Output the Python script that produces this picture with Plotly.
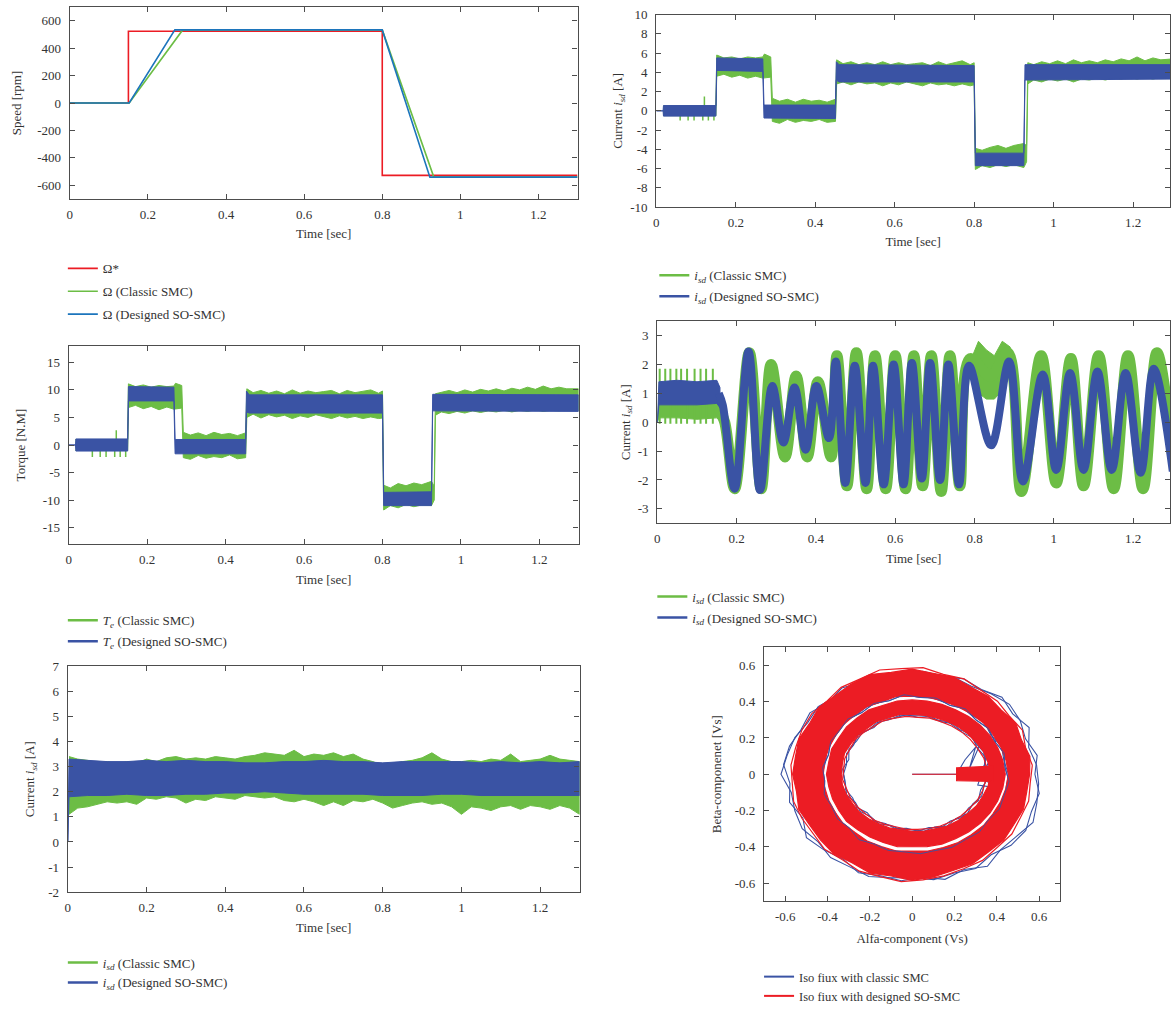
import math
import plotly.graph_objects as go

FONT = "Liberation Serif"
GREEN = "#6cbd45"
BLUE = "#3a53a4"
SBLUE = "#1c75bc"
RED = "#ec1c24"
AXC = "#4d4d4d"
TXT = "#333333"
W, H = 1171, 1011

# ---------------- Panel A : speed ----------------
speed_ref_t = [0, 0.15, 0.15, 0.8, 0.8, 1.3]
speed_ref_w = [0, 0, 523, 523, -527, -527]
speed_cls_t = [0, 0.152, 0.289, 0.8, 0.932, 1.3]
speed_cls_w = [0, 0, 533, 533, -540, -540]
speed_so_t = [0, 0.152, 0.269, 0.8, 0.922, 1.3]
speed_so_w = [0, 0, 533, 533, -540, -540]
speed_ticks = [-600, -400, -200, 0, 200, 400, 600]
speed_labels = ["-600", "-400", "-200", "0", "200", "400", "600"]

time_ticks = [0, 0.2, 0.4, 0.6, 0.8, 1.0, 1.2]
time_labels = ["0", "0.2", "0.4", "0.6", "0.8", "1", "1.2"]

# ---------------- Panel B : current (torque producing) ----------------
isB_so_t = [0.000, 0.017, 0.018, 0.150, 0.152, 0.268, 0.271, 0.451, 0.453, 0.460, 0.800, 0.803, 0.925, 0.928, 1.300]
isB_so_hi = [0.0, 0.0, 0.55, 0.55, 5.5, 5.4, 0.6, 0.6, 5.1, 4.8, 4.7, -4.4, -4.4, 4.8, 4.8]
isB_so_lo = [0.0, 0.0, -0.55, -0.55, 4.2, 4.1, -0.75, -0.8, 3.2, 3.0, 3.0, -5.7, -5.7, 3.2, 3.3]
cl_t = [0.017, 0.150,
        0.152, 0.17, 0.19, 0.21, 0.23, 0.25, 0.268,
        0.272, 0.288,
        0.292, 0.31, 0.33, 0.35, 0.37, 0.39, 0.41, 0.43, 0.451,
        0.454, 0.47, 0.49, 0.51, 0.53, 0.55, 0.57, 0.59, 0.61, 0.63, 0.65, 0.67, 0.69, 0.71, 0.73, 0.75, 0.77, 0.79, 0.800,
        0.803, 0.82, 0.84, 0.86, 0.88, 0.90, 0.925,
        0.932,
        0.935, 0.95, 0.97, 0.99, 1.01, 1.03, 1.05, 1.07, 1.09, 1.11, 1.13, 1.15, 1.17, 1.19, 1.21, 1.23, 1.25, 1.27, 1.3]
isB_cl_hi = [0.5, 0.5,
             5.8, 5.5, 5.6, 5.4, 5.6, 5.5, 5.6,
             5.9, 5.6,
             1.3, 1.0, 1.2, 0.9, 1.2, 1.0, 1.1, 0.9, 1.2,
             5.3, 4.9, 5.1, 4.8, 5.0, 4.8, 5.1, 4.8, 5.0, 4.8, 4.9, 5.0, 4.7, 5.1, 4.8, 5.0, 5.2, 4.8, 5.0,
             -3.9, -4.1, -3.8, -3.6, -3.9, -3.6, -3.4,
             -3.6,
             5.0, 4.8, 5.1, 4.9, 5.2, 4.9, 5.3, 5.0, 5.2, 5.0, 5.3, 5.1, 5.4, 5.2, 5.6, 5.2, 5.5, 5.3, 5.4]
isB_cl_lo = [-0.5, -0.5,
             3.6, 3.8, 3.5, 3.7, 3.4, 3.6, 3.4,
             3.4, 3.5,
             -1.1, -1.3, -0.9, -1.2, -1.0, -1.1, -0.9, -1.2, -1.1,
             2.8, 3.0, 2.7, 3.0, 2.8, 2.9, 2.6, 2.9, 2.7, 3.0, 2.8, 2.6, 2.9, 2.7, 2.8, 2.6, 2.8, 2.6, 2.7,
             -6.1, -5.7, -5.9, -5.6, -5.8, -5.6, -5.9,
             -5.3,
             2.8, 3.2, 3.0, 3.3, 3.1, 3.3, 3.0, 3.3, 3.2, 3.4, 3.2, 3.4, 3.3, 3.5, 3.3, 3.5, 3.3, 3.5, 3.4]
isB_spike_t = [0.060, 0.080, 0.095, 0.117, 0.131, 0.145]
isB_spike_lo = -1.0
isB_upspike_t = [0.121]
isB_upspike_hi = 1.5
isB_ticks = [-10, -8, -6, -4, -2, 0, 2, 4, 6, 8, 10]
isB_labels = ["-10", "-8", "-6", "-4", "-2", "0", "2", "4", "6", "8", "10"]

# ---------------- Panel C : torque ----------------
te_so_t = [0.000, 0.017, 0.018, 0.150, 0.152, 0.268, 0.271, 0.451, 0.453, 0.460, 0.800, 0.803, 0.925, 0.928, 1.300]
te_so_hi = [0.0, 0.0, 1.1, 1.1, 10.6, 10.5, 1.0, 1.0, 9.8, 9.1, 9.1, -8.6, -8.5, 9.2, 9.1]
te_so_lo = [0.0, 0.0, -1.1, -1.1, 8.0, 8.0, -1.6, -1.6, 6.0, 5.8, 5.8, -11.0, -11.0, 6.2, 6.1]
te_cl_hi = [1.0, 1.0,
            11.1, 10.6, 10.9, 10.5, 10.8, 10.6, 10.7,
            11.2, 10.8,
            2.3, 1.8, 2.2, 1.7, 2.3, 1.9, 2.1, 1.7, 2.2,
            10.2, 9.5, 9.9, 9.4, 9.8, 9.3, 10.0, 9.4, 9.8, 9.5, 9.7, 9.9, 9.3, 9.9, 9.5, 9.8, 10.0, 9.4, 9.8,
            -7.3, -7.8, -7.0, -7.4, -6.9, -7.2, -6.6,
            -7.5,
            9.3, 9.6, 9.9, 9.5, 10.0, 9.6, 10.1, 9.8, 10.2, 9.8, 10.3, 10.0, 10.5, 10.1, 10.7, 10.2, 10.5, 10.2, 10.2]
te_cl_lo = [-1.0, -1.0,
            6.8, 7.2, 6.6, 7.0, 6.4, 6.9, 6.5,
            6.5, 6.7,
            -2.3, -2.6, -1.9, -2.4, -2.1, -2.3, -1.8, -2.5, -2.3,
            5.0, 5.6, 4.9, 5.5, 5.1, 5.4, 4.8, 5.3, 5.0, 5.5, 5.1, 4.8, 5.3, 4.9, 5.2, 4.8, 5.1, 4.8, 4.9,
            -11.8, -11.0, -11.4, -10.8, -11.2, -10.9, -11.0,
            -10.0,
            5.4, 6.0, 5.7, 6.1, 5.8, 6.2, 5.9, 6.2, 6.0, 6.3, 6.0, 6.3, 6.1, 6.4, 6.1, 6.3, 6.2, 6.4, 6.2]
te_spike_t = [0.060, 0.080, 0.095, 0.117, 0.131, 0.145]
te_spike_lo = -2.2
te_upspike_t = [0.121]
te_upspike_hi = 2.7
te_ticks = [-15, -10, -5, 0, 5, 10, 15]
te_labels = ["-15", "-10", "-5", "0", "5", "10", "15"]

# ---------------- Panel D : oscillating current ----------------
isD_so0_t = [0.000, 0.004, 0.050, 0.100, 0.150, 0.158]
isD_so0_hi = [0.0, 1.4, 1.45, 1.4, 1.45, 1.2]
isD_so0_lo = [0.0, 0.6, 0.6, 0.6, 0.65, 0.5]
isD_cl0_t = [0.000, 0.004, 0.050, 0.100, 0.150, 0.160]
isD_cl0_hi = [0.0, 0.9, 0.9, 0.85, 0.9, 0.6]
isD_cl0_lo = [0.0, 0.15, 0.15, 0.1, 0.15, 0.0]
isD_cl_spike_t = [0.006, 0.020, 0.033, 0.048, 0.060, 0.075, 0.094, 0.109, 0.123, 0.140]
isD_cl_spike_hi = 1.85
isD_cl_spike_lo = -0.05
isD_so_t = [0.155, 0.165, 0.195, 0.230, 0.259, 0.290, 0.318, 0.346, 0.374, 0.401, 0.433, 0.450, 0.474, 0.498,
            0.525, 0.544, 0.571, 0.596, 0.621, 0.642, 0.667, 0.688, 0.713, 0.734, 0.761, 0.786, 0.842, 0.887,
            0.922, 0.972, 1.006, 1.041, 1.075, 1.110, 1.146, 1.181, 1.219, 1.252, 1.300]
isD_so_v = [1.0, 0.6, -2.3, 2.45, -2.35, 1.25, -0.7, 1.2, -0.95, 1.25, -0.55, 2.1, -2.1, 1.95,
            -2.1, 1.95, -2.15, 2.0, -2.15, 2.05, -1.95, 2.05, -2.0, 2.0, -2.15, 1.95, -0.8, 2.1,
            -2.05, 1.65, -1.65, 1.7, -1.65, 1.75, -1.65, 1.7, -1.75, 1.85, -1.7]
isD_cl_t = [0.155, 0.170, 0.195, 0.232, 0.262, 0.287, 0.322, 0.350, 0.378, 0.405, 0.438, 0.453, 0.478, 0.502,
            0.528, 0.549, 0.576, 0.600, 0.626, 0.647, 0.669, 0.691, 0.716, 0.738, 0.763, 0.789, 0.840, 0.884,
            0.918, 0.968, 1.006, 1.043, 1.075, 1.113, 1.151, 1.187, 1.225, 1.260, 1.300]
isD_cl_v = [0.5, 0.0, -2.3, 2.4, -2.3, 2.0, -1.2, 1.6, -1.2, 1.4, -1.2, 2.3, -2.2, 2.4,
            -2.3, 2.3, -2.3, 2.3, -2.3, 2.3, -2.2, 2.3, -2.4, 2.3, -2.2, 2.2, 1.6, 2.4,
            -2.4, 2.3, -2.1, 2.2, -2.2, 2.3, -2.3, 2.3, -2.3, 2.4, -1.2]
isD_clp_t = [0.795, 0.810, 0.830, 0.850, 0.870, 0.890]
isD_clp_hi = [2.3, 2.8, 2.5, 2.3, 2.8, 2.6]
isD_clp_lo = [1.6, 1.0, 0.8, 0.8, 1.1, 1.7]
isD_ticks = [-3, -2, -1, 0, 1, 2, 3]
isD_labels = ["-3", "-2", "-1", "0", "1", "2", "3"]

# ---------------- Panel E : flux current ----------------
isE_so_t = [0, 0.003, 0.05, 0.1, 0.15, 0.2, 0.25, 0.3, 0.35, 0.4, 0.45, 0.5, 0.55, 0.6, 0.65, 0.7,
            0.75, 0.8, 0.85, 0.9, 0.95, 1.0, 1.05, 1.1, 1.15, 1.2, 1.25, 1.3]
isE_so_hi = [0, 3.3, 3.25, 3.2, 3.2, 3.25, 3.2, 3.25, 3.2, 3.2, 3.15, 3.15, 3.2, 3.2, 3.25, 3.2,
             3.2, 3.15, 3.2, 3.2, 3.2, 3.2, 3.15, 3.2, 3.15, 3.2, 3.15, 3.2]
isE_so_lo = [0, 1.8, 1.85, 1.85, 1.9, 1.85, 1.85, 1.9, 1.9, 1.95, 1.95, 2.0, 1.95, 1.9, 1.9, 1.9,
             1.9, 1.85, 1.85, 1.85, 1.9, 1.9, 1.85, 1.85, 1.85, 1.85, 1.85, 1.85]
isE_cl_t = [0.003, 0.025, 0.05, 0.075, 0.1, 0.125, 0.15, 0.175, 0.2, 0.225, 0.25, 0.275, 0.3, 0.325,
            0.35, 0.375, 0.4, 0.425, 0.45, 0.475, 0.5, 0.525, 0.55, 0.575, 0.6, 0.625, 0.65, 0.675,
            0.7, 0.725, 0.75, 0.775, 0.8, 0.825, 0.85, 0.875, 0.9, 0.925, 0.95, 0.975, 1.0, 1.025,
            1.05, 1.075, 1.1, 1.125, 1.15, 1.175, 1.2, 1.225, 1.25, 1.275, 1.3]
isE_cl_hi = [3.4, 3.3, 3.25, 3.15, 3.2, 3.1, 3.2, 3.15, 3.3, 3.2, 3.35, 3.4, 3.3, 3.35,
             3.3, 3.4, 3.35, 3.3, 3.4, 3.45, 3.55, 3.5, 3.45, 3.65, 3.4, 3.5, 3.45, 3.55,
             3.4, 3.5, 3.3, 3.2, 3.05, 3.1, 3.2, 3.25, 3.35, 3.55, 3.3, 3.2, 3.2, 3.25,
             3.2, 3.3, 3.25, 3.5, 3.2, 3.25, 3.3, 3.45, 3.3, 3.25, 3.2]
isE_cl_lo = [1.1, 1.35, 1.4, 1.5, 1.6, 1.55, 1.6, 1.5, 1.75, 1.7, 1.8, 1.75, 1.55, 1.7,
             1.65, 1.8, 1.75, 1.7, 1.85, 1.8, 1.75, 1.8, 1.65, 1.6, 1.7, 1.6, 1.45, 1.6,
             1.45, 1.65, 1.6, 1.7, 1.55, 1.35, 1.45, 1.55, 1.6, 1.5, 1.55, 1.4, 1.1, 1.4,
             1.35, 1.25, 1.4, 1.45, 1.3, 1.45, 1.4, 1.3, 1.45, 1.35, 1.1]
isE_ticks = [-2, -1, 0, 1, 2, 3, 4, 5, 6, 7]
isE_labels = ["-2", "-1", "0", "1", "2", "3", "4", "5", "6", "7"]

# ---------------- Panel F : flux locus (radii vs angle, deg) ----------------
flux_ang = [0, 10, 20, 30, 40, 50, 60, 70, 80, 90, 100, 110, 120, 130, 140, 150, 160, 170,
            180, 190, 200, 210, 220, 230, 240, 250, 260, 270, 280, 290, 300, 310, 320, 330, 340, 350]
flux_ang2 = [5, 15, 25, 35, 45, 55, 65, 75, 85, 95, 105, 115, 125, 135, 145, 155, 165, 175,
             185, 195, 205, 215, 225, 235, 245, 255, 265, 275, 285, 295, 305, 315, 325, 335, 345, 355]
red_outer_out = [0.555, 0.565, 0.55, 0.565, 0.55, 0.56, 0.555, 0.57, 0.565, 0.58, 0.57, 0.585, 0.575, 0.565,
                 0.575, 0.56, 0.57, 0.56, 0.565, 0.555, 0.57, 0.56, 0.565, 0.575, 0.565, 0.58, 0.57, 0.585,
                 0.575, 0.565, 0.57, 0.56, 0.565, 0.555, 0.56, 0.55]
red_outer_in = [0.455, 0.45, 0.445, 0.44, 0.44, 0.435, 0.43, 0.43, 0.43, 0.43, 0.435, 0.425, 0.43, 0.425,
                0.425, 0.42, 0.42, 0.42, 0.42, 0.42, 0.42, 0.42, 0.425, 0.42, 0.425, 0.425, 0.43, 0.425,
                0.43, 0.43, 0.435, 0.435, 0.44, 0.44, 0.445, 0.45]
red_inner_out = [0.44, 0.435, 0.43, 0.425, 0.42, 0.415, 0.41, 0.41, 0.41, 0.41, 0.41, 0.405, 0.41, 0.405,
                 0.405, 0.40, 0.405, 0.40, 0.405, 0.40, 0.40, 0.40, 0.405, 0.40, 0.40, 0.40, 0.405, 0.40,
                 0.405, 0.41, 0.41, 0.415, 0.42, 0.425, 0.43, 0.435]
red_inner_in = [0.37, 0.365, 0.36, 0.35, 0.345, 0.34, 0.335, 0.33, 0.33, 0.33, 0.335, 0.33, 0.335, 0.33,
                0.335, 0.335, 0.34, 0.335, 0.335, 0.335, 0.33, 0.325, 0.325, 0.32, 0.315, 0.315, 0.31, 0.315,
                0.32, 0.32, 0.33, 0.335, 0.34, 0.35, 0.355, 0.365]
red_edge_out2 = [0.57, 0.555, 0.575, 0.56, 0.57, 0.565, 0.58, 0.57, 0.59, 0.585, 0.595, 0.58, 0.585, 0.57,
                 0.58, 0.575, 0.57, 0.575, 0.57, 0.58, 0.575, 0.57, 0.585, 0.575, 0.59, 0.585, 0.595, 0.585,
                 0.58, 0.575, 0.58, 0.57, 0.575, 0.565, 0.57, 0.56]
red_edge_in2 = [0.355, 0.35, 0.34, 0.335, 0.33, 0.325, 0.32, 0.32, 0.315, 0.32, 0.32, 0.325, 0.32, 0.325,
                0.33, 0.325, 0.33, 0.325, 0.33, 0.32, 0.32, 0.315, 0.31, 0.31, 0.305, 0.30, 0.305, 0.305,
                0.31, 0.315, 0.32, 0.325, 0.33, 0.34, 0.345, 0.35]
blue_loop_out = [0.58, 0.6, 0.57, 0.59, 0.6, 0.58, 0.56, 0.57, 0.55, 0.57, 0.56, 0.57, 0.55, 0.56,
                 0.58, 0.57, 0.59, 0.6, 0.62, 0.58, 0.59, 0.6, 0.58, 0.6, 0.59, 0.6, 0.58, 0.57,
                 0.59, 0.58, 0.6, 0.58, 0.61, 0.62, 0.6, 0.61]
blue_loop_out2 = [0.59, 0.57, 0.61, 0.58, 0.6, 0.57, 0.58, 0.56, 0.57, 0.55, 0.57, 0.56, 0.58, 0.56,
                  0.59, 0.58, 0.6, 0.61, 0.58, 0.6, 0.57, 0.61, 0.59, 0.57, 0.6, 0.58, 0.59, 0.57,
                  0.6, 0.58, 0.62, 0.59, 0.6, 0.63, 0.61, 0.6]
blue_loop_mid = [0.455, 0.44, 0.45, 0.43, 0.445, 0.43, 0.44, 0.425, 0.435, 0.43, 0.44, 0.425, 0.43, 0.42,
                 0.435, 0.42, 0.43, 0.415, 0.425, 0.42, 0.43, 0.42, 0.435, 0.425, 0.44, 0.43, 0.44, 0.43,
                 0.445, 0.435, 0.45, 0.44, 0.455, 0.445, 0.46, 0.45]
blue_loop_mid2 = [0.44, 0.45, 0.43, 0.44, 0.425, 0.44, 0.42, 0.435, 0.425, 0.44, 0.42, 0.43, 0.415, 0.43,
                  0.42, 0.425, 0.41, 0.425, 0.415, 0.43, 0.42, 0.43, 0.42, 0.44, 0.425, 0.435, 0.43, 0.44,
                  0.435, 0.445, 0.44, 0.45, 0.44, 0.455, 0.45, 0.46]
blue_loop_in = [0.36, 0.35, 0.36, 0.345, 0.35, 0.33, 0.335, 0.32, 0.33, 0.325, 0.33, 0.32, 0.33, 0.32,
                0.335, 0.32, 0.33, 0.315, 0.325, 0.32, 0.33, 0.31, 0.32, 0.305, 0.315, 0.3, 0.31, 0.305,
                0.32, 0.31, 0.33, 0.32, 0.34, 0.33, 0.35, 0.345]
blue_loop_in2 = [0.34, 0.36, 0.34, 0.35, 0.33, 0.34, 0.32, 0.33, 0.315, 0.33, 0.32, 0.335, 0.315, 0.33,
                 0.32, 0.33, 0.31, 0.33, 0.32, 0.325, 0.31, 0.32, 0.3, 0.315, 0.3, 0.31, 0.3, 0.315,
                 0.305, 0.325, 0.315, 0.335, 0.325, 0.345, 0.335, 0.355]
blue_start_x = [0.0, 0.21, 0.25, 0.30, 0.27, 0.33, 0.36, 0.31, 0.37, 0.34, 0.40]
blue_start_y = [0.0, 0.0, 0.08, 0.15, 0.03, 0.19, 0.12, -0.06, -0.07, 0.0, 0.20]
red_wedge_x = [0.0, 0.21, 0.21, 0.38, 0.38, 0.21, 0.21, 0.0]
red_wedge_y = [0.0, 0.0, 0.035, 0.045, -0.04, -0.035, 0.0, 0.0]
flux_ticks = [-0.6, -0.4, -0.2, 0, 0.2, 0.4, 0.6]
flux_labels = ["-0.6", "-0.4", "-0.2", "0", "0.2", "0.4", "0.6"]


# ---------------- helpers ----------------
def band_xy(t, hi, lo):
    return list(t) + list(t)[::-1], list(hi) + list(lo)[::-1]


def spikes_xy(ts, a, b):
    xs, ys = [], []
    for t in ts:
        xs += [t, t, None]
        ys += [a, b, None]
    return xs, ys


def polar_loop(r, ang):
    xs = [ri * math.cos(math.radians(a)) for ri, a in zip(r, ang)]
    ys = [ri * math.sin(math.radians(a)) for ri, a in zip(r, ang)]
    return xs + xs[:1], ys + ys[:1]


def annulus_xy(r_out, r_in, ang):
    xo, yo = polar_loop(r_out, ang)
    xi, yi = polar_loop(r_in, ang)
    return xo + xi[::-1], yo + yi[::-1]


fig = go.Figure()


def band(t, hi, lo, color, xa, ya, group, legend):
    x, y = band_xy(t, hi, lo)
    fig.add_trace(go.Scatter(x=x, y=y, mode="lines", fill="toself", fillcolor=color,
                             line=dict(color=color, width=1), xaxis=xa, yaxis=ya,
                             showlegend=False, legendgroup=group, legend=legend, hoverinfo="skip"))


def spikes(ts, a, b, color, xa, ya, group, legend, width=1.5):
    x, y = spikes_xy(ts, a, b)
    fig.add_trace(go.Scatter(x=x, y=y, mode="lines", line=dict(color=color, width=width),
                             xaxis=xa, yaxis=ya, showlegend=False, legendgroup=group,
                             legend=legend, hoverinfo="skip"))


def legend_entry(name, color, xa, ya, group, legend, width=2.5):
    fig.add_trace(go.Scatter(x=[None], y=[None], mode="lines", name=name,
                             line=dict(color=color, width=width), xaxis=xa, yaxis=ya,
                             legendgroup=group, legend=legend))


# Panel A
fig.add_trace(go.Scatter(x=speed_ref_t, y=speed_ref_w, mode="lines", name="Ω*",
                         line=dict(color=RED, width=1.6), xaxis="x", yaxis="y",
                         legendgroup="a1", legend="legend"))
fig.add_trace(go.Scatter(x=speed_cls_t, y=speed_cls_w, mode="lines", name="Ω (Classic SMC)",
                         line=dict(color=GREEN, width=1.6), xaxis="x", yaxis="y",
                         legendgroup="a2", legend="legend"))
fig.add_trace(go.Scatter(x=speed_so_t, y=speed_so_w, mode="lines", name="Ω (Designed SO-SMC)",
                         line=dict(color=SBLUE, width=1.6), xaxis="x", yaxis="y",
                         legendgroup="a3", legend="legend"))

ISD = "<i>i</i><sub><i>sd</i></sub>"
TE = "<i>T</i><sub><i>e</i></sub>"

# Panel B
band(cl_t, isB_cl_hi, isB_cl_lo, GREEN, "x2", "y2", "b1", "legend2")
spikes(isB_spike_t, -0.5, isB_spike_lo, GREEN, "x2", "y2", "b1", "legend2")
spikes(isB_upspike_t, 0.5, isB_upspike_hi, GREEN, "x2", "y2", "b1", "legend2")
band(isB_so_t, isB_so_hi, isB_so_lo, BLUE, "x2", "y2", "b2", "legend2")
legend_entry(ISD + " (Classic SMC)", GREEN, "x2", "y2", "b1", "legend2")
legend_entry(ISD + " (Designed SO-SMC)", BLUE, "x2", "y2", "b2", "legend2")

# Panel C
band(cl_t, te_cl_hi, te_cl_lo, GREEN, "x3", "y3", "c1", "legend3")
spikes(te_spike_t, -1.1, te_spike_lo, GREEN, "x3", "y3", "c1", "legend3")
spikes(te_upspike_t, 1.1, te_upspike_hi, GREEN, "x3", "y3", "c1", "legend3")
band(te_so_t, te_so_hi, te_so_lo, BLUE, "x3", "y3", "c2", "legend3")
legend_entry(TE + " (Classic SMC)", GREEN, "x3", "y3", "c1", "legend3")
legend_entry(TE + " (Designed SO-SMC)", BLUE, "x3", "y3", "c2", "legend3")

# Panel D
band(isD_cl0_t, isD_cl0_hi, isD_cl0_lo, GREEN, "x4", "y4", "d1", "legend4")
spikes(isD_cl_spike_t, isD_cl_spike_lo, isD_cl_spike_hi, GREEN, "x4", "y4", "d1", "legend4", width=2)
band(isD_clp_t, isD_clp_hi, isD_clp_lo, GREEN, "x4", "y4", "d1", "legend4")
fig.add_trace(go.Scatter(x=isD_cl_t, y=isD_cl_v, mode="lines", line=dict(color=GREEN, width=11, shape="spline"),
                         xaxis="x4", yaxis="y4", showlegend=False, legendgroup="d1", legend="legend4",
                         hoverinfo="skip"))
band(isD_so0_t, isD_so0_hi, isD_so0_lo, BLUE, "x4", "y4", "d2", "legend4")
fig.add_trace(go.Scatter(x=isD_so_t, y=isD_so_v, mode="lines", line=dict(color=BLUE, width=8, shape="spline"),
                         xaxis="x4", yaxis="y4", showlegend=False, legendgroup="d2", legend="legend4",
                         hoverinfo="skip"))
legend_entry(ISD + " (Classic SMC)", GREEN, "x4", "y4", "d1", "legend4")
legend_entry(ISD + " (Designed SO-SMC)", BLUE, "x4", "y4", "d2", "legend4")

# Panel E
band(isE_cl_t, isE_cl_hi, isE_cl_lo, GREEN, "x5", "y5", "e1", "legend5")
band(isE_so_t, isE_so_hi, isE_so_lo, BLUE, "x5", "y5", "e2", "legend5")
legend_entry(ISD + " (Classic SMC)", GREEN, "x5", "y5", "e1", "legend5")
legend_entry(ISD + " (Designed SO-SMC)", BLUE, "x5", "y5", "e2", "legend5")

# Panel F
for rr, aa in ((blue_loop_out, flux_ang), (blue_loop_out2, flux_ang2), (blue_loop_mid, flux_ang),
               (blue_loop_mid2, flux_ang2), (blue_loop_in, flux_ang), (blue_loop_in2, flux_ang2)):
    bx, by = polar_loop(rr, aa)
    fig.add_trace(go.Scatter(x=bx, y=by, mode="lines", line=dict(color=BLUE, width=1.1),
                             xaxis="x6", yaxis="y6", showlegend=False, legendgroup="f1",
                             legend="legend6", hoverinfo="skip"))
fig.add_trace(go.Scatter(x=blue_start_x, y=blue_start_y, mode="lines", line=dict(color=BLUE, width=1.1),
                         xaxis="x6", yaxis="y6", showlegend=False, legendgroup="f1",
                         legend="legend6", hoverinfo="skip"))
for ro, ri in ((red_outer_out, red_outer_in), (red_inner_out, red_inner_in)):
    ax_, ay_ = annulus_xy(ro, ri, flux_ang)
    fig.add_trace(go.Scatter(x=ax_, y=ay_, mode="lines", fill="toself", fillcolor=RED,
                             line=dict(color=RED, width=1.2), xaxis="x6", yaxis="y6",
                             showlegend=False, legendgroup="f2", legend="legend6", hoverinfo="skip"))
for rr in (red_edge_out2, red_edge_in2):
    ex, ey = polar_loop(rr, flux_ang2)
    fig.add_trace(go.Scatter(x=ex, y=ey, mode="lines", line=dict(color=RED, width=1.2),
                             xaxis="x6", yaxis="y6", showlegend=False, legendgroup="f2",
                             legend="legend6", hoverinfo="skip"))
# a thin classic-SMC trace that shows through the gap between the red rings
bmx, bmy = polar_loop(blue_loop_mid2, flux_ang2)
fig.add_trace(go.Scatter(x=bmx, y=bmy, mode="lines", line=dict(color=BLUE, width=0.9),
                         xaxis="x6", yaxis="y6", showlegend=False, legendgroup="f1",
                         legend="legend6", hoverinfo="skip"))
fig.add_trace(go.Scatter(x=red_wedge_x, y=red_wedge_y, mode="lines", fill="toself", fillcolor=RED,
                         line=dict(color=RED, width=1.2), xaxis="x6", yaxis="y6",
                         showlegend=False, legendgroup="f2", legend="legend6", hoverinfo="skip"))
legend_entry("Iso fiux with classic SMC", BLUE, "x6", "y6", "f1", "legend6", width=2)
legend_entry("Iso fiux with designed SO-SMC", RED, "x6", "y6", "f2", "legend6", width=2)


# ---------------- layout ----------------
def yl(y):
    # measured page offset / vertical scale of the capture
    return min(max((y - 6.3) / 0.9835, 0), H)


def dom(x0, x1, y0, y1):
    return [x0 / W, x1 / W], [1 - yl(y1) / H, 1 - yl(y0) / H]


def axis(domain, rng, tv, tt, title, anchor, standoff, lstand):
    return dict(domain=domain, range=rng, tickvals=tv, ticktext=tt, anchor=anchor,
                showline=True, linecolor=AXC, linewidth=1.3, mirror="ticks", ticks="inside",
                ticklen=5, tickwidth=1.1, tickcolor=AXC, showgrid=False, zeroline=False,
                tickfont=dict(family=FONT, size=13, color=TXT), ticklabelstandoff=lstand,
                title=dict(text=title, font=dict(family=FONT, size=13, color=TXT), standoff=standoff),
                fixedrange=True)


panels = {
    "": (dom(67, 576, 4, 200), [0, 1.3], [-700, 700], speed_ticks, speed_labels, "Speed [rpm]", 12),
    "2": (dom(655, 1170, 14, 208), [0, 1.293], [-10, 10], isB_ticks, isB_labels, "Current " + ISD + " [A]", 4),
    "3": (dom(66, 577, 348, 548), [0, 1.3], [-18, 18], te_ticks, te_labels, "Torque [N.M]", 14),
    "4": (dom(656, 1170, 323, 527), [0, 1.293], [-3.5, 3.5], isD_ticks, isD_labels, "Current " + ISD + " [A]", 4),
    "5": (dom(65, 578, 671, 899), [0, 1.3], [-2, 7], isE_ticks, isE_labels, "Current " + ISD + " [A]", 10),
}

layout = dict(width=W, height=H, margin=dict(l=0, r=0, t=0, b=0), paper_bgcolor="white",
              plot_bgcolor="white", font=dict(family=FONT, size=12, color=TXT))

for k, ((dx, dy), xr, yr, yv, yt, ytitle, ystand) in panels.items():
    layout["xaxis" + k] = axis(dx, xr, time_ticks, time_labels, "Time [sec]", "y" + k, 8, 3)
    layout["yaxis" + k] = axis(dy, yr, yv, yt, ytitle, "x" + k, ystand, 5)

dx, dy = dom(763, 1060, 652, 908)
layout["xaxis6"] = axis(dx, [-0.7, 0.7], flux_ticks, flux_labels, "Alfa-component (Vs)", "y6", 10, 3)
layout["yaxis6"] = axis(dy, [-0.7, 0.7], flux_ticks, flux_labels, "Beta-componenet [Vs]", "x6", 10, 5)


def leg(x_px, item_y_px, gap, size=13):
    top = yl(item_y_px) - 16.5
    return dict(x=x_px / W, y=1 - top / H, xanchor="left", yanchor="top",
                font=dict(family=FONT, size=size, color=TXT), bgcolor="rgba(0,0,0,0)",
                tracegroupgap=gap, itemwidth=30, orientation="v", traceorder="grouped")


layout["legend"] = leg(60, 271, 3)
layout["legend2"] = leg(653, 278, 1)
layout["legend3"] = leg(60, 626, 1)
layout["legend4"] = leg(651, 602, 1)
layout["legend5"] = leg(60, 971, 0)
layout["legend6"] = leg(758, 986, 0, size=12.5)

fig.update_layout(**layout)
fig.write_html("out.html")
